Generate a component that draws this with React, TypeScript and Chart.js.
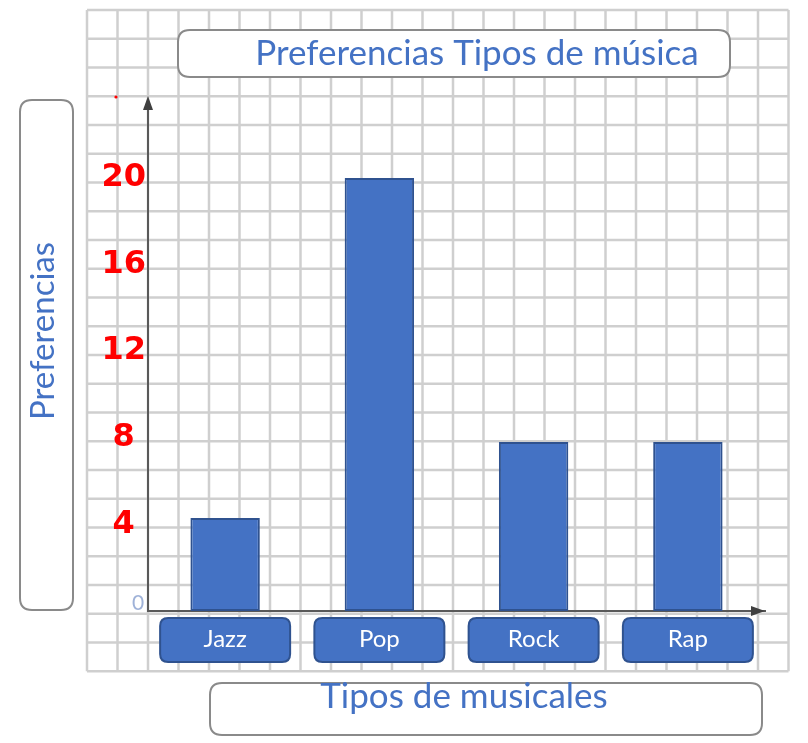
import React, { useEffect, useRef } from 'react';
import { Chart, registerables } from 'chart.js';

Chart.register(...registerables);

const categories = ['Jazz', 'Pop', 'Rock', 'Rap'];
const preferencias = [4.3, 20, 7.8, 7.8];
const yTickValues = [4, 8, 12, 16, 20];
const zeroLabel = '0';
const chartTitle = 'Preferencias Tipos de música';
const yTitle = 'Preferencias';
const xTitle = 'Tipos de musicales';

const BLUE = '#4472C4';
const BLUE_DARK = '#2F528F';
const AXIS = '#595959';

function roundRect(ctx: CanvasRenderingContext2D, x: number, y: number, w: number, h: number, r: number) {
  ctx.beginPath();
  ctx.moveTo(x + r, y);
  ctx.lineTo(x + w - r, y);
  ctx.quadraticCurveTo(x + w, y, x + w, y + r);
  ctx.lineTo(x + w, y + h - r);
  ctx.quadraticCurveTo(x + w, y + h, x + w - r, y + h);
  ctx.lineTo(x + r, y + h);
  ctx.quadraticCurveTo(x, y + h, x, y + h - r);
  ctx.lineTo(x, y + r);
  ctx.quadraticCurveTo(x, y, x + r, y);
  ctx.closePath();
}

function whiteBox(ctx: CanvasRenderingContext2D, x: number, y: number, w: number, h: number) {
  roundRect(ctx, x, y, w, h, 12);
  ctx.fillStyle = '#ffffff';
  ctx.fill();
  ctx.lineWidth = 2;
  ctx.strokeStyle = '#8a8a8a';
  ctx.stroke();
}

const decorPlugin = {
  id: 'decor',
  beforeDraw(chart: any) {
    const ctx: CanvasRenderingContext2D = chart.ctx;
    ctx.save();
    ctx.fillStyle = '#ffffff';
    ctx.fillRect(0, 0, chart.width, chart.height);

    // grid paper background
    ctx.strokeStyle = '#cfcfcf';
    ctx.lineWidth = 2.5;
    const gx0 = 87, gy0 = 10, dx = 30.5, dy = 28.75, nx = 23, ny = 23;
    for (let i = 0; i <= nx; i++) {
      const x = gx0 + dx * i;
      ctx.beginPath();
      ctx.moveTo(x, gy0);
      ctx.lineTo(x, gy0 + dy * ny);
      ctx.stroke();
    }
    for (let j = 0; j <= ny; j++) {
      const y = gy0 + dy * j;
      ctx.beginPath();
      ctx.moveTo(gx0, y);
      ctx.lineTo(gx0 + dx * nx, y);
      ctx.stroke();
    }

    // title box
    whiteBox(ctx, 178, 30, 552, 47);
    ctx.fillStyle = BLUE;
    ctx.font = '35px Lato';
    ctx.textAlign = 'center';
    ctx.textBaseline = 'middle';
    ctx.fillText(chartTitle, 477, 54);

    // y title box
    whiteBox(ctx, 20, 100, 53, 510);
    ctx.save();
    ctx.translate(43, 331);
    ctx.rotate(-Math.PI / 2);
    ctx.font = '33px Lato';
    ctx.fillStyle = BLUE;
    ctx.fillText(yTitle, 0, 0);
    ctx.restore();

    // x title box
    whiteBox(ctx, 210, 683, 552, 52);
    ctx.font = '35px Lato';
    ctx.fillStyle = BLUE;
    ctx.fillText(xTitle, 464, 697);

    // category label boxes
    const xs = chart.scales.x;
    categories.forEach((_, i) => {
      const cx = xs.getPixelForValue(i);
      roundRect(ctx, cx - 65, 618, 130, 44, 8);
      ctx.fillStyle = BLUE;
      ctx.fill();
      ctx.lineWidth = 2;
      ctx.strokeStyle = BLUE_DARK;
      ctx.stroke();
    });
    ctx.restore();
  },
  afterDraw(chart: any) {
    const ctx: CanvasRenderingContext2D = chart.ctx;
    const a = chart.chartArea;
    const ys = chart.scales.y;
    ctx.save();
    ctx.fillStyle = '#404040';
    // y arrow
    ctx.beginPath();
    ctx.moveTo(a.left, a.top - 4);
    ctx.lineTo(a.left - 5, a.top + 10);
    ctx.lineTo(a.left + 5, a.top + 10);
    ctx.closePath();
    ctx.fill();
    // x arrow
    const y0 = ys.getPixelForValue(0);
    ctx.beginPath();
    ctx.moveTo(a.right, y0);
    ctx.lineTo(a.right - 14, y0 - 5);
    ctx.lineTo(a.right - 14, y0 + 5);
    ctx.closePath();
    ctx.fill();
    // zero label
    ctx.fillStyle = '#9fb2d8';
    ctx.font = '21px Lato';
    ctx.textAlign = 'center';
    ctx.textBaseline = 'middle';
    ctx.fillText(zeroLabel, a.left - 10, y0 - 8);
    // small red dot
    ctx.fillStyle = '#ff0000';
    ctx.beginPath();
    ctx.arc(116, 97, 1.6, 0, Math.PI * 2);
    ctx.fill();
    ctx.restore();
  },
};

export default function App() {
  const ref = useRef<HTMLCanvasElement>(null);
  useEffect(() => {
    document.body.style.margin = '0';
    const canvas = ref.current!;
    const chart = new Chart(canvas, {
      type: 'bar',
      data: {
        labels: categories,
        datasets: [
          {
            label: yTitle,
            data: preferencias,
            backgroundColor: BLUE,
            borderColor: BLUE_DARK,
            borderWidth: 2,
            borderSkipped: false,
            barPercentage: 0.45,
            categoryPercentage: 1,
          },
        ],
      },
      options: {
        responsive: false,
        animation: false,
        devicePixelRatio: 1,
        layout: { padding: { left: 88, top: 100, right: 43, bottom: 72 } },
        plugins: {
          legend: { display: false },
          title: { display: false },
          tooltip: { enabled: false },
        },
        scales: {
          x: {
            type: 'category',
            grid: { display: false, drawTicks: false },
            border: { display: true, color: AXIS, width: 2 },
            ticks: {
              color: '#ffffff',
              font: { family: 'Lato', size: 24 },
              padding: 14,
              maxRotation: 0,
            },
            afterFit: (s: any) => {
              s.height = 60;
            },
          },
          y: {
            type: 'linear',
            min: 0,
            max: 23.6,
            grid: { display: false, drawTicks: false },
            border: { display: true, color: AXIS, width: 2 },
            afterBuildTicks: (s: any) => {
              s.ticks = yTickValues.map((v) => ({ value: v }));
            },
            ticks: {
              color: '#ff0000',
              font: { family: 'DejaVu Sans', size: 32, weight: 'bold' },
              padding: 2,
              crossAlign: 'center',
              callback: (v: any) => String(v),
            },
            afterFit: (s: any) => {
              s.width = 60;
            },
          },
        },
      },
      plugins: [decorPlugin],
    });
    return () => chart.destroy();
  }, []);
  return <canvas ref={ref} width={808} height={743} style={{ display: 'block', width: 808, height: 743 }} />;
}
